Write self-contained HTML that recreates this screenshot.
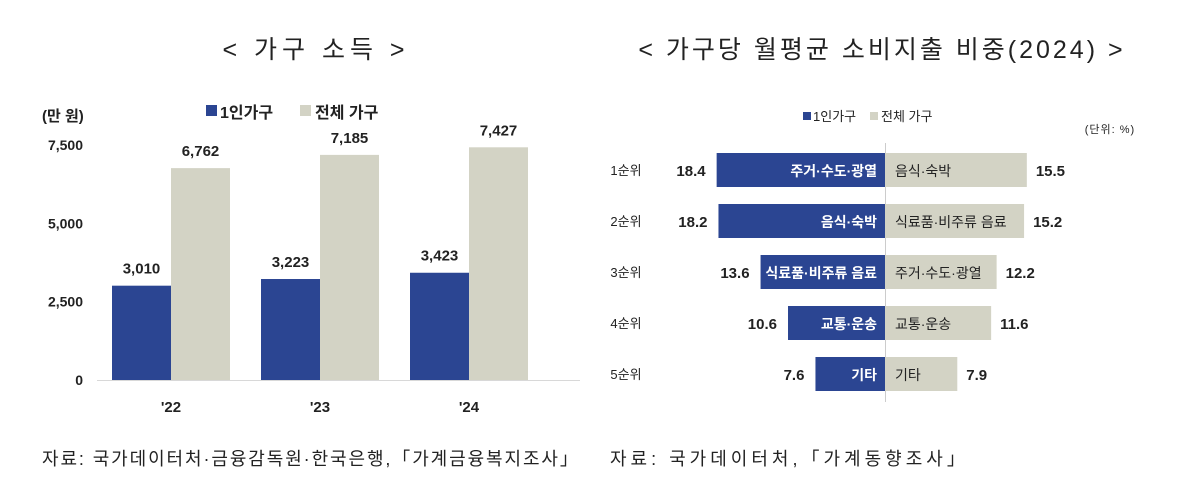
<!DOCTYPE html>
<html><head><meta charset="utf-8">
<style>
body{margin:0;background:#fff;width:1200px;height:490px;overflow:hidden;font-family:"Liberation Sans","Noto Sans CJK KR",sans-serif;}
svg text{font-family:"Liberation Sans","Noto Sans CJK KR",sans-serif;}
</style></head><body>
<svg width="1200" height="490">
<text x="316" y="58" font-size="25" text-anchor="middle" letter-spacing="5" fill="#222">&lt; 가구 소득 &gt;</text>
<text x="882" y="58" font-size="25" text-anchor="middle" letter-spacing="3" fill="#222">&lt; 가구당 월평균 소비지출 비중(2024) &gt;</text>
<g id="left"></g>
<g id="right"></g>
<text x="42" y="465" font-size="18" letter-spacing="1.9" fill="#222">자료: 국가데이터처·금융감독원·한국은행,「가계금융복지조사」</text>
<text x="610" y="465" font-size="18" letter-spacing="4" fill="#222">자료: 국가데이터처,「가계동향조사」</text>
</svg>
<script>
const years=["'22","'23","'24"];
const single=[3010,3223,3423];
const total=[6762,7185,7427];
const yTicks=[0,2500,5000,7500];
const ranks=["1순위","2순위","3순위","4순위","5순위"];
const singleCats=["주거·수도·광열","음식·숙박","식료품·비주류 음료","교통·운송","기타"];
const singleVals=[18.4,18.2,13.6,10.6,7.6];
const totalCats=["음식·숙박","식료품·비주류 음료","주거·수도·광열","교통·운송","기타"];
const totalVals=[15.5,15.2,12.2,11.6,7.9];

const NS="http://www.w3.org/2000/svg";
const BLUE="#2b4592",GRAY="#d3d3c5";
function mk(p,tag,at,txt){const e=document.createElementNS(NS,tag);for(const k in at)e.setAttribute(k,at[k]);if(txt!==undefined)e.textContent=txt;p.appendChild(e);return e;}
const fmt=v=>v.toLocaleString('en-US');

const L=document.getElementById('left');
const y0=380,yScale=v=>y0-v/7500*235;
const gx=i=>171+i*149;
let e;
e=mk(L,'text',{x:42,y:121,'font-size':15,'font-weight':'bold',fill:'#222'},'(만 원)');


e=mk(L,'rect',{x:206,y:105,width:11,height:11,fill:BLUE});


e=mk(L,'text',{x:220,y:118,'font-size':16,'font-weight':'bold',fill:'#222'},'1인가구');


e=mk(L,'rect',{x:300,y:105,width:11,height:11,fill:GRAY});


e=mk(L,'text',{x:315,y:118,'font-size':16,'font-weight':'bold',fill:'#222'},'전체 가구');


yTicks.forEach(t=>{
  e=mk(L,'text',{x:83,y:yScale(t)+5,'font-size':14,'font-weight':'bold','text-anchor':'end',fill:'#222'},fmt(t));
  
  
});
e=mk(L,'line',{x1:97,x2:580,y1:y0+0.5,y2:y0+0.5,stroke:'#d8d8d8','stroke-width':1});


years.forEach((yr,i)=>{
  const c=gx(i);
  e=mk(L,'rect',{x:c-59,y:yScale(single[i]),width:59,height:y0-yScale(single[i]),fill:BLUE});
  
  
  e=mk(L,'rect',{x:c,y:yScale(total[i]),width:59,height:y0-yScale(total[i]),fill:GRAY});
  
  
  e=mk(L,'text',{x:c-29.5,y:yScale(single[i])-12,'font-size':15,'font-weight':'bold','text-anchor':'middle',fill:'#222'},fmt(single[i]));
  
  
  e=mk(L,'text',{x:c+29.5,y:yScale(total[i])-12,'font-size':15,'font-weight':'bold','text-anchor':'middle',fill:'#222'},fmt(total[i]));
  
  
  e=mk(L,'text',{x:c,y:412,'font-size':15,'font-weight':'bold','text-anchor':'middle',fill:'#222'},yr);
  
  
});

const R=document.getElementById('right');
const cx=885,k=9.15,rowY=i=>170+i*51,bh=34;
e=mk(R,'rect',{x:803,y:112,width:8,height:8,fill:BLUE});


e=mk(R,'text',{x:813,y:121,'font-size':13,fill:'#222'},'1인가구');


e=mk(R,'rect',{x:870,y:112,width:8,height:8,fill:GRAY});


e=mk(R,'text',{x:881,y:121,'font-size':13,fill:'#222'},'전체 가구');


e=mk(R,'text',{x:1110,y:133,'font-size':11,'text-anchor':'middle','letter-spacing':1,fill:'#222'},'(단위: %)');


e=mk(R,'line',{x1:cx+0.5,x2:cx+0.5,y1:143,y2:402,stroke:'#ccc','stroke-width':1});


ranks.forEach((r,i)=>{
  const y=rowY(i);
  e=mk(R,'text',{x:626,y:y+5,'font-size':13,'text-anchor':'middle',fill:'#222'},r);
  
  
  const wl=singleVals[i]*k,wr=totalVals[i]*k;
  e=mk(R,'rect',{x:cx-wl,y:y-bh/2,width:wl,height:bh,fill:BLUE});
  
  
  e=mk(R,'rect',{x:cx,y:y-bh/2,width:wr,height:bh,fill:GRAY});
  
  
  e=mk(R,'text',{x:cx-8,y:y+6,'font-size':14,'font-weight':'bold','text-anchor':'end',fill:'#fff'},singleCats[i]);
  
  
  e=mk(R,'text',{x:cx+10,y:y+6,'font-size':14,'text-anchor':'start',fill:'#222'},totalCats[i]);
  
  
  e=mk(R,'text',{x:cx-wl-11,y:y+6,'font-size':15,'font-weight':'bold','text-anchor':'end',fill:'#222'},singleVals[i].toFixed(1));
  
  
  e=mk(R,'text',{x:cx+wr+9,y:y+6,'font-size':15,'font-weight':'bold','text-anchor':'start',fill:'#222'},totalVals[i].toFixed(1));
  
  
});
</script>
</body></html>
